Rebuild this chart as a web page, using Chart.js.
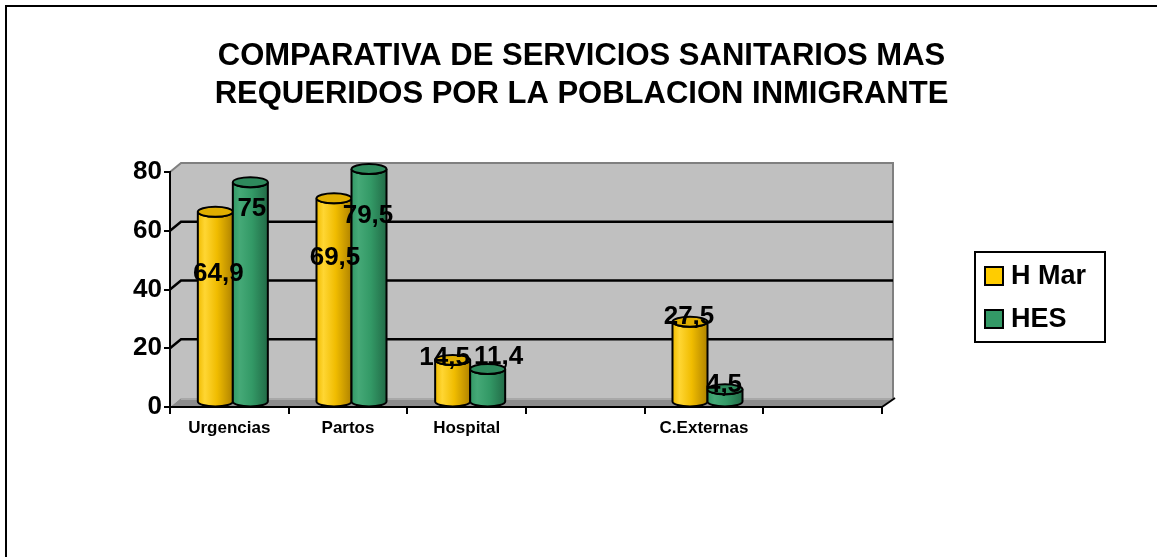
<!DOCTYPE html>
<html>
<head>
<meta charset="utf-8">
<script src="https://cdn.jsdelivr.net/npm/chart.js@4/dist/chart.umd.min.js"></script>
<style>
  html, body { margin: 0; padding: 0; background: #ffffff; }
  #wrap { width: 1157px; height: 557px; position: relative; }
</style>
</head>
<body>
<div id="wrap"><canvas id="servicesChart" width="1157" height="557"></canvas></div>
<script>
// Services data (percent of users per service)
const categories = ['Urgencias', 'Partos', 'Hospital', '', 'C.Externas', ''];
const seriesNames = ['H Mar', 'HES'];
const hMarValues = [64.9, 69.5, 14.5, null, 27.5, null];
const hesValues = [75, 79.5, 11.4, null, 4.5, null];
const titleLines = ['COMPARATIVA DE SERVICIOS SANITARIOS MAS', 'REQUERIDOS POR LA POBLACION INMIGRANTE'];

// Where each value label sits, relative to the top of its cylinder [dx, dy]
const hMarLabelShift = [[3, 62], [1, 59], [-8, -2], null, [-1, -5], null];
const hesLabelShift = [[1.5, 27], [-1, 47], [11, -12], null, [-1, -4], null];

const FONT = "'Liberation Sans', Arial, sans-serif";

// Cylinder shading per series
const palette = [
  { light: '#ffd633', base: '#f0bc00', dark: '#b08300', top: '#e0ae00', legend: '#ffcc00' },
  { light: '#45a977', base: '#339966', dark: '#226b47', top: '#2e8a5c', legend: '#339966' },
];

// 3D depth of the plot box
const DEPTH_X = 11;
const DEPTH_Y = 9;

/**
 * Format numbers with a decimal comma
 */
function formatValue(v) {
  return String(v).replace('.', ',');
}

/**
 * Outer frame and two-line title across the full width
 */
const framePlugin = {
  id: 'frame',
  beforeDraw(chart) {
    const { ctx } = chart;
    ctx.save();
    // only top and left edges are visible
    ctx.strokeStyle = '#000';
    ctx.lineWidth = 2;
    ctx.strokeRect(6, 6, chart.width + 20, chart.height + 20);

    ctx.fillStyle = '#000';
    ctx.font = `bold 31px ${FONT}`;
    ctx.textAlign = 'center';
    ctx.textBaseline = 'middle';
    titleLines.forEach((line, i) => {
      ctx.fillText(line, chart.width / 2 + 3, 56 + i * 38);
    });
    ctx.restore();
  },
};

/**
 * Back wall, side wall and floor
 */
const wallsPlugin = {
  id: 'walls',
  beforeDraw(chart) {
    const { ctx, chartArea: a } = chart;
    const yScale = chart.scales.y;
    ctx.save();

    // side wall
    ctx.fillStyle = '#c0c0c0';
    ctx.beginPath();
    ctx.moveTo(a.left, a.top);
    ctx.lineTo(a.left + DEPTH_X, a.top - DEPTH_Y);
    ctx.lineTo(a.left + DEPTH_X, a.bottom - DEPTH_Y);
    ctx.lineTo(a.left, a.bottom);
    ctx.closePath();
    ctx.fill();

    // back wall
    ctx.fillRect(a.left + DEPTH_X, a.top - DEPTH_Y, a.right - a.left, a.bottom - a.top);
    ctx.strokeStyle = '#808080';
    ctx.lineWidth = 2;
    ctx.beginPath();
    ctx.moveTo(a.left, a.top);
    ctx.lineTo(a.left + DEPTH_X, a.top - DEPTH_Y);
    ctx.lineTo(a.right + DEPTH_X, a.top - DEPTH_Y);
    ctx.lineTo(a.right + DEPTH_X, a.bottom - DEPTH_Y);
    ctx.stroke();

    // gridlines on side and back wall
    ctx.strokeStyle = '#000';
    ctx.lineWidth = 2.5;
    yScale.ticks.forEach((t) => {
      if (t.value === yScale.min || t.value === yScale.max) return;
      const y = yScale.getPixelForValue(t.value);
      ctx.beginPath();
      ctx.moveTo(a.left, y);
      ctx.lineTo(a.left + DEPTH_X, y - DEPTH_Y);
      ctx.lineTo(a.right + DEPTH_X, y - DEPTH_Y);
      ctx.stroke();
    });

    // floor
    ctx.fillStyle = '#8c8c8c';
    ctx.beginPath();
    ctx.moveTo(a.left, a.bottom);
    ctx.lineTo(a.left + DEPTH_X, a.bottom - DEPTH_Y);
    ctx.lineTo(a.right + DEPTH_X, a.bottom - DEPTH_Y);
    ctx.lineTo(a.right, a.bottom);
    ctx.closePath();
    ctx.fill();
    ctx.strokeStyle = '#a8a8a8';
    ctx.lineWidth = 2;
    ctx.beginPath();
    ctx.moveTo(a.left + DEPTH_X, a.bottom - DEPTH_Y + 1);
    ctx.lineTo(a.right + DEPTH_X, a.bottom - DEPTH_Y + 1);
    ctx.stroke();
    ctx.strokeStyle = '#000';
    ctx.beginPath();
    ctx.moveTo(a.right, a.bottom);
    ctx.lineTo(a.right + DEPTH_X + 2, a.bottom - DEPTH_Y);
    ctx.stroke();

    ctx.restore();
  },
};

/**
 * Draw one shaded cylinder
 */
function drawCylinder(ctx, cx, top, base, w, colors) {
  const rx = w / 2;
  const ry = 5;

  const grad = ctx.createLinearGradient(cx - rx, 0, cx + rx, 0);
  grad.addColorStop(0, colors.base);
  grad.addColorStop(0.2, colors.light);
  grad.addColorStop(0.55, colors.base);
  grad.addColorStop(1, colors.dark);

  ctx.beginPath();
  ctx.moveTo(cx - rx, top);
  ctx.lineTo(cx - rx, base);
  ctx.ellipse(cx, base, rx, ry, 0, Math.PI, 0, true);
  ctx.lineTo(cx + rx, top);
  ctx.ellipse(cx, top, rx, ry, 0, 0, Math.PI, false);
  ctx.closePath();
  ctx.fillStyle = grad;
  ctx.fill();
  ctx.stroke();

  ctx.beginPath();
  ctx.ellipse(cx, top, rx, ry, 0, 0, Math.PI * 2);
  ctx.fillStyle = colors.top;
  ctx.fill();
  ctx.stroke();
}

/**
 * Cylinders and value labels, placed from the bar elements
 */
const cylindersPlugin = {
  id: 'cylinders',
  beforeDatasetDraw() {
    // flat bars are replaced by cylinders
    return false;
  },
  afterDatasetsDraw(chart) {
    const { ctx } = chart;
    const shifts = [hMarLabelShift, hesLabelShift];
    ctx.save();
    ctx.strokeStyle = '#000';
    ctx.lineWidth = 2;

    // cylinders sit half-way into the depth of the box
    const ox = 3.5;
    const oy = -DEPTH_Y / 2;

    const labels = [];
    chart.data.datasets.forEach((ds, di) => {
      const meta = chart.getDatasetMeta(di);
      meta.data.forEach((el, i) => {
        const v = ds.data[i];
        if (v === null || v === undefined) return;
        const cx = el.x + ox;
        const top = el.y + oy;
        drawCylinder(ctx, cx, top, el.base + oy, el.width, palette[di]);
        const s = shifts[di][i] || [0, 0];
        labels.push({ text: formatValue(v), x: cx + s[0], y: top + s[1] });
      });
    });

    ctx.fillStyle = '#000';
    ctx.font = `bold 26px ${FONT}`;
    ctx.textAlign = 'center';
    ctx.textBaseline = 'middle';
    labels.forEach((l) => ctx.fillText(l.text, l.x, l.y));
    ctx.restore();
  },
};

/**
 * Boxed legend to the right of the plot
 */
const boxLegendPlugin = {
  id: 'boxLegend',
  afterDraw(chart) {
    const { ctx } = chart;
    const x = 975;
    const y = 252;
    ctx.save();
    ctx.fillStyle = '#fff';
    ctx.fillRect(x, y, 130, 90);
    ctx.strokeStyle = '#000';
    ctx.lineWidth = 2;
    ctx.strokeRect(x, y, 130, 90);

    ctx.font = `bold 27px ${FONT}`;
    ctx.textBaseline = 'middle';
    ctx.textAlign = 'left';
    chart.data.datasets.forEach((ds, i) => {
      const cy = y + 24 + i * 43;
      ctx.fillStyle = palette[i].legend;
      ctx.fillRect(x + 10, cy - 9, 18, 18);
      ctx.strokeRect(x + 10, cy - 9, 18, 18);
      ctx.fillStyle = '#000';
      ctx.fillText(ds.label, x + 36, cy + 1);
    });
    ctx.restore();
  },
};

const ctx = document.getElementById('servicesChart').getContext('2d');

new Chart(ctx, {
  type: 'bar',
  data: {
    labels: categories,
    datasets: [
      { label: seriesNames[0], data: hMarValues, backgroundColor: palette[0].base },
      { label: seriesNames[1], data: hesValues, backgroundColor: palette[1].base },
    ],
  },
  options: {
    responsive: false,
    animation: false,
    devicePixelRatio: 1,
    layout: { padding: { left: 0, right: 275, top: 172, bottom: 0 } },
    datasets: {
      bar: { categoryPercentage: 0.59, barPercentage: 1, skipNull: false },
    },
    plugins: {
      legend: { display: false },
      tooltip: { enabled: false },
      title: { display: false },
    },
    scales: {
      x: {
        afterFit: (scale) => { scale.height = 150; },
        grid: {
          offset: true,
          drawOnChartArea: false,
          drawTicks: true,
          tickLength: 7,
          color: '#000',
          lineWidth: 2,
        },
        border: { display: true, color: '#000', width: 2 },
        ticks: {
          color: '#000',
          padding: 4,
          maxRotation: 0,
          font: { family: FONT, size: 17, weight: 'bold' },
        },
      },
      y: {
        min: 0,
        max: 80,
        afterFit: (scale) => { scale.width = 170; },
        grid: {
          drawOnChartArea: false,
          drawTicks: true,
          tickLength: 6,
          color: '#000',
          lineWidth: 2,
        },
        border: { display: true, color: '#000', width: 2 },
        ticks: {
          stepSize: 20,
          color: '#000',
          padding: 2,
          font: { family: FONT, size: 26, weight: 'bold' },
        },
      },
    },
  },
  plugins: [framePlugin, wallsPlugin, cylindersPlugin, boxLegendPlugin],
});
</script>
</body>
</html>
